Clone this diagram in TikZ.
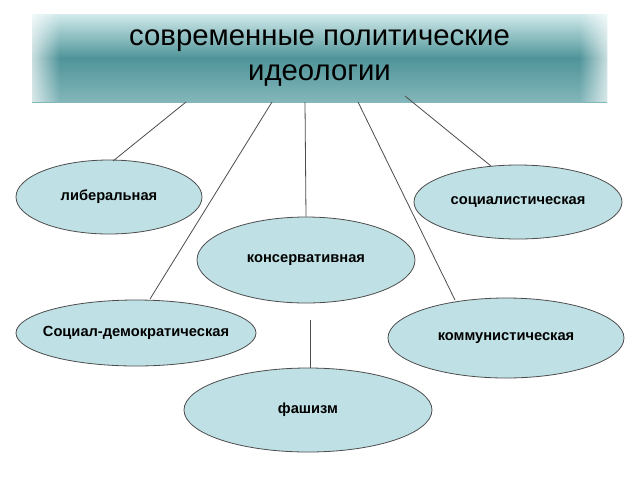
\documentclass[tikz,border=0pt]{standalone}
\usepackage{fontspec}
\setmainfont{Liberation Sans}
\usetikzlibrary{shapes.geometric,fadings}
\definecolor{teal1}{HTML}{4F9499}
\definecolor{teal2}{HTML}{D2EBEC}
\definecolor{ellf}{HTML}{BFE1E5}
\begin{document}
\begin{tikzpicture}[x=0.75pt,y=-0.75pt,
  ell/.style={ellipse,draw=black!70,fill=ellf,line width=0.6pt,inner sep=0pt,font=\bfseries\fontsize{11}{13}\selectfont},
  conn/.style={draw=black!70,line width=0.6pt}]
\useasboundingbox (0,0) rectangle (640,480);
\node[draw=none,top color=teal2,bottom color=teal2!40!teal1,middle color=teal1,minimum width=431.25pt,minimum height=66pt] (title) at (319.5,58) {};
\fill[white,path fading=east,opacity=0.7] (title.south west) rectangle ++(28,-88);
\fill[white,path fading=west,opacity=0.7] (title.south east) rectangle ++(-28,-88);
\node[align=center,font=\fontsize{22}{26}\selectfont] at (title.center) {современные политические\\идеологии};
\node[ell,minimum width=139.5pt,minimum height=55.5pt] (lib) at (109,197) {либеральная};
\node[ell,minimum width=156pt,minimum height=55.5pt] (soc) at (518,202) {социалистическая};
\node[ell,minimum width=163.5pt,minimum height=64.5pt] (kon) at (306,260) {консервативная};
\node[ell,minimum width=180pt,minimum height=49.5pt,inner xsep=-22pt] (sd) at (136,333) {Социал-демократическая};
\node[ell,minimum width=177pt,minimum height=60pt] (kom) at (506,338) {коммунистическая};
\node[ell,minimum width=186pt,minimum height=63pt] (fa) at (308,410) {фашизм};
\coordinate (t1) at (186,102); \coordinate (t2) at (272,102);
\coordinate (t3) at (305,102); \coordinate (t4) at (358,102);
\coordinate (t5) at (405,96); \coordinate (f0) at (310,320);
\draw[conn] (t1) -- (113,161);
\draw[conn] (t2) -- (150,299);
\draw[conn] (t3) -- (kon.north);
\draw[conn] (t4) -- (455,300);
\draw[conn] (t5) -- (491,166);
\draw[conn] (f0) -- (fa.north-|f0);
\end{tikzpicture}
\end{document}
